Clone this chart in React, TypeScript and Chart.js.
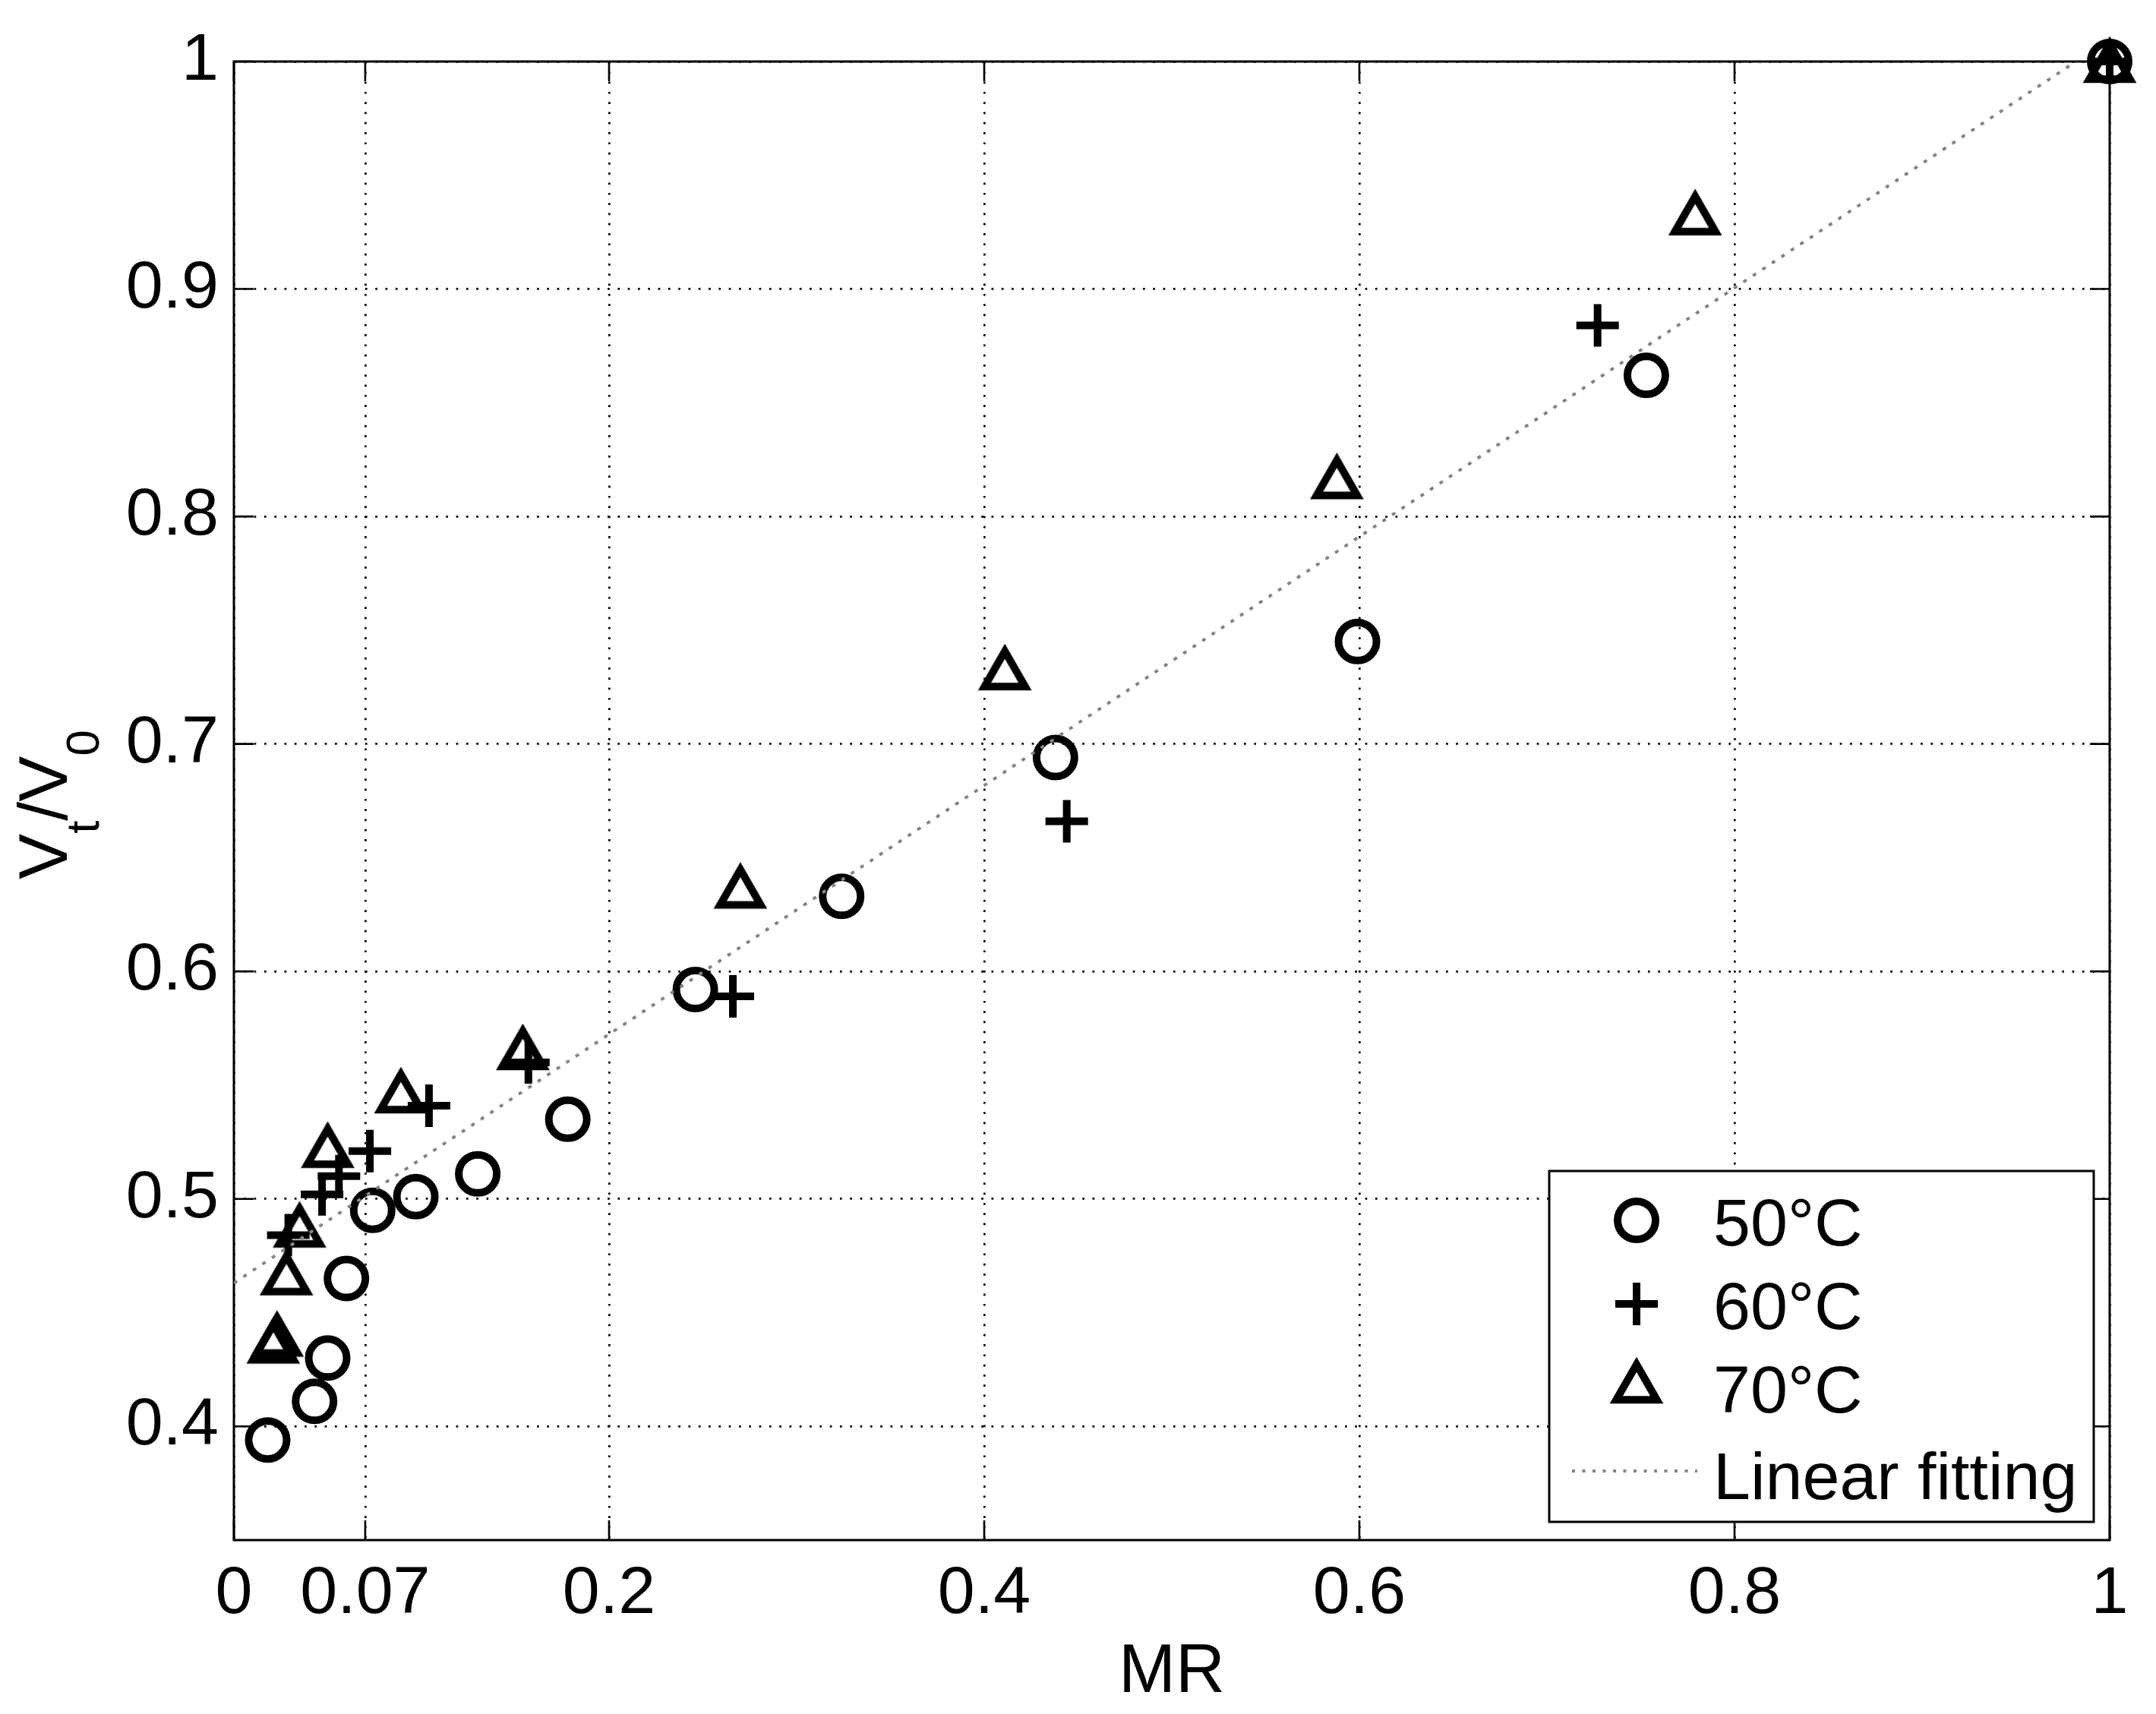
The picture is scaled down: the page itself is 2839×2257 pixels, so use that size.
import React, { useEffect, useRef } from 'react';
import { Chart, registerables } from 'chart.js';
import { drawPoint } from 'chart.js/helpers';

Chart.register(...registerables);

// ---------- data ----------
const mr50 = [0.018, 0.043, 0.050, 0.060, 0.074, 0.097, 0.130, 0.178, 0.246, 0.324, 0.438, 0.599, 0.753, 1.0];
const vr50 = [0.394, 0.411, 0.430, 0.465, 0.495, 0.501, 0.511, 0.535, 0.592, 0.633, 0.694, 0.745, 0.862, 1.0];

const mr60 = [0.029, 0.047, 0.056, 0.0725, 0.104, 0.157, 0.266, 0.444, 0.727, 1.0];
const vr60 = [0.484, 0.502, 0.510, 0.521, 0.541, 0.560, 0.589, 0.666, 0.884, 1.0];

const mr70 = [0.021, 0.023, 0.028, 0.035, 0.050, 0.089, 0.154, 0.270, 0.411, 0.588, 0.779, 1.0];
const vr70 = [0.437, 0.440, 0.467, 0.488, 0.523, 0.547, 0.566, 0.637, 0.733, 0.817, 0.933, 1.0];

const fitMR = [0, 0.982];
const fitVR = [0.463, 1.0];

const seriesLabels = ['50°C', '60°C', '70°C', 'Linear fitting'];

const xTickValues = [0, 0.07, 0.2, 0.4, 0.6, 0.8, 1];
const xTickLabels = ['0', '0.07', '0.2', '0.4', '0.6', '0.8', '1'];
const yTickValues = [0.4, 0.5, 0.6, 0.7, 0.8, 0.9, 1.0];
const yTickLabels = ['0.4', '0.5', '0.6', '0.7', '0.8', '0.9', '1'];

const xTitle = 'MR';

// ---------- layout / style ----------
const W = 2839;
const H = 2257;
const FONT = "'Liberation Sans', Arial, Helvetica, sans-serif";
const TICK_FONT_SIZE = 88;
const TITLE_FONT_SIZE = 90;
const LEGEND_FONT_SIZE = 88;
const FIT_COLOR = '#858585';

const toPts = (xs: number[], ys: number[]) => xs.map((x, i) => ({ x, y: ys[i] }));

function makeTriangle(): HTMLCanvasElement {
  const c = document.createElement('canvas');
  c.width = 86;
  c.height = 86;
  const g = c.getContext('2d')!;
  const w = 53.4;
  const h = 46.3;
  const cx = 43;
  const cy = 43;
  g.strokeStyle = '#000';
  g.lineWidth = 10;
  g.lineJoin = 'miter';
  g.beginPath();
  g.moveTo(cx, cy - h / 2);
  g.lineTo(cx + w / 2, cy + h / 2);
  g.lineTo(cx - w / 2, cy + h / 2);
  g.closePath();
  g.stroke();
  return c;
}

export default function App() {
  const ref = useRef<HTMLCanvasElement | null>(null);

  useEffect(() => {
    if (!ref.current) return;
    const tri = makeTriangle();

    const markerStyles: any[] = [
      { pointStyle: 'circle', radius: 25, borderWidth: 10 },
      { pointStyle: 'cross', radius: 28, borderWidth: 10 },
      { pointStyle: tri, radius: 30, borderWidth: 0 },
    ];

    const framePlugin = {
      id: 'frame',
      beforeDatasetsDraw(chart: any) {
        const { ctx, chartArea: a, scales } = chart;
        const x = scales.x;
        const y = scales.y;
        ctx.save();
        ctx.strokeStyle = '#000';
        ctx.lineWidth = 2.6;
        const TL = 26;
        ctx.beginPath();
        xTickValues.forEach((v) => {
          const px = x.getPixelForValue(v);
          ctx.moveTo(px, a.bottom);
          ctx.lineTo(px, a.bottom - TL);
          ctx.moveTo(px, a.top);
          ctx.lineTo(px, a.top + TL);
        });
        yTickValues.forEach((v) => {
          const py = y.getPixelForValue(v);
          ctx.moveTo(a.left, py);
          ctx.lineTo(a.left + TL, py);
          ctx.moveTo(a.right, py);
          ctx.lineTo(a.right - TL, py);
        });
        ctx.stroke();
        ctx.lineWidth = 3;
        ctx.strokeRect(a.left, a.top, a.right - a.left, a.bottom - a.top);
        ctx.restore();
      },
      afterDraw(chart: any) {
        const { ctx, chartArea: a } = chart;
        ctx.save();
        // ---- y axis title: V_t/V_0 ----
        const big = `${TITLE_FONT_SIZE}px ${FONT}`;
        const small = `62px ${FONT}`;
        const parts: [string, string, number][] = [
          ['V', big, 0],
          ['t', small, 42],
          ['/', big, 0],
          ['V', big, 0],
          ['0', small, 42],
        ];
        let total = 0;
        const widths = parts.map(([t, f]) => {
          ctx.font = f;
          const w = ctx.measureText(t).width;
          total += w;
          return w;
        });
        ctx.translate(88, (a.top + a.bottom) / 2 + 5);
        ctx.rotate(-Math.PI / 2);
        ctx.fillStyle = '#000';
        ctx.textBaseline = 'alphabetic';
        ctx.textAlign = 'left';
        let px = -total / 2;
        parts.forEach(([t, f, dy], i) => {
          ctx.font = f;
          ctx.fillText(t, px, dy);
          px += widths[i];
        });
        ctx.restore();

        // ---- legend ----
        ctx.save();
        const L = 2040, T = 1542, R = 2757, B = 2004;
        ctx.fillStyle = '#fff';
        ctx.fillRect(L, T, R - L, B - T);
        ctx.strokeStyle = '#000';
        ctx.lineWidth = 3;
        ctx.strokeRect(L, T, R - L, B - T);
        const markerX = 2155;
        const textX = 2256;
        const rowsY = [1607, 1717, 1820, 1937];
        const baseY = [1640, 1750, 1860, 1974];
        ctx.font = `${LEGEND_FONT_SIZE}px ${FONT}`;
        ctx.textAlign = 'left';
        ctx.textBaseline = 'alphabetic';
        for (let i = 0; i < 3; i++) {
          const m = markerStyles[i];
          ctx.strokeStyle = '#000';
          ctx.fillStyle = 'rgba(0,0,0,0)';
          ctx.lineWidth = m.borderWidth;
          drawPoint(ctx, { pointStyle: m.pointStyle, radius: m.radius, borderWidth: m.borderWidth, rotation: 0 } as any, markerX, rowsY[i]);
          ctx.fillStyle = '#000';
          ctx.fillText(seriesLabels[i], textX, baseY[i]);
        }
        ctx.strokeStyle = FIT_COLOR;
        ctx.lineWidth = 4;
        ctx.setLineDash([4, 9.5]);
        ctx.beginPath();
        ctx.moveTo(2070, rowsY[3]);
        ctx.lineTo(2235, rowsY[3]);
        ctx.stroke();
        ctx.setLineDash([]);
        ctx.fillStyle = '#000';
        ctx.fillText(seriesLabels[3], textX, baseY[3]);
        ctx.restore();
      },
    };

    const tickFont = { family: FONT, size: TICK_FONT_SIZE };

    const chart = new Chart(ref.current, {
      type: 'scatter',
      data: {
        datasets: [
          {
            label: seriesLabels[3],
            data: toPts(fitMR, fitVR),
            showLine: true,
            pointRadius: 0,
            borderColor: FIT_COLOR,
            borderWidth: 4,
            borderDash: [5, 10],
            order: 0,
          } as any,
          {
            label: seriesLabels[0],
            data: toPts(mr50, vr50),
            pointStyle: 'circle',
            pointRadius: 25,
            pointBorderWidth: 10,
            pointBorderColor: '#000',
            pointBackgroundColor: 'rgba(0,0,0,0)',
            clip: false,
            order: 1,
          },
          {
            label: seriesLabels[1],
            data: toPts(mr60, vr60),
            pointStyle: 'cross',
            pointRadius: 28,
            pointBorderWidth: 10,
            pointBorderColor: '#000',
            pointBackgroundColor: 'rgba(0,0,0,0)',
            clip: false,
            order: 2,
          },
          {
            label: seriesLabels[2],
            data: toPts(mr70, vr70),
            pointStyle: tri as any,
            pointRadius: 30,
            pointBorderWidth: 0,
            pointBorderColor: '#000',
            clip: false,
            order: 3,
          },
        ],
      },
      options: {
        responsive: false,
        animation: false,
        devicePixelRatio: 1,
        events: [],
        layout: { padding: { top: 81, right: 61, left: 0, bottom: 0 } },
        plugins: {
          legend: { display: false },
          tooltip: { enabled: false },
        },
        scales: {
          x: {
            type: 'linear',
            min: 0,
            max: 1,
            afterBuildTicks: (s: any) => {
              s.ticks = xTickValues.map((v) => ({ value: v }));
            },
            afterFit: (s: any) => {
              s.height = H - 2028;
            },
            ticks: {
              autoSkip: false,
              maxRotation: 0,
              minRotation: 0,
              padding: 19,
              color: '#000',
              font: tickFont,
              callback: (_v: any, i: number) => xTickLabels[i],
            },
            grid: { color: '#000', lineWidth: 2.7, drawTicks: false },
            border: { display: false, dash: [2.7, 10.6] },
            title: {
              display: true,
              text: xTitle,
              color: '#000',
              font: { family: FONT, size: TITLE_FONT_SIZE },
              padding: { top: 0, bottom: 0 },
            },
          },
          y: {
            type: 'linear',
            min: 0.35,
            max: 1,
            afterBuildTicks: (s: any) => {
              s.ticks = yTickValues.map((v) => ({ value: v }));
            },
            afterFit: (s: any) => {
              s.width = 308;
            },
            ticks: {
              autoSkip: false,
              padding: 20,
              color: '#000',
              font: tickFont,
              callback: (_v: any, i: number) => yTickLabels[i],
            },
            grid: { color: '#000', lineWidth: 2.7, drawTicks: false },
            border: { display: false, dash: [2.7, 10.6] },
          },
        },
      } as any,
      plugins: [framePlugin],
    });

    return () => chart.destroy();
  }, []);

  return (
    <div style={{ position: 'absolute', left: 0, top: 0, width: W, height: H, background: '#fff' }}>
      <canvas ref={ref} width={W} height={H} style={{ display: 'block', width: W, height: H }} />
    </div>
  );
}
